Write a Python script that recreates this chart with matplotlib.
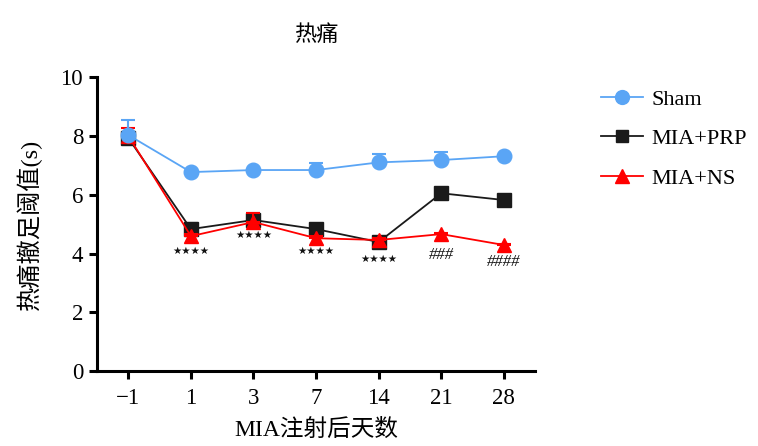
import matplotlib
matplotlib.use("Agg")
import matplotlib.pyplot as plt
from matplotlib.lines import Line2D
import numpy as np

plt.rcParams['font.family'] = ['Liberation Serif', 'Noto Sans CJK SC']
plt.rcParams['axes.unicode_minus'] = True

days = ["\u22121", "1", "3", "7", "14", "21", "28"]
sham = [8.03, 6.77, 6.84, 6.84, 7.10, 7.18, 7.31]
sham_err = [0.50, 0.05, 0.05, 0.25, 0.28, 0.27, 0.05]
prp = [7.93, 4.83, 5.14, 4.83, 4.39, 6.05, 5.82]
prp_err = [0.15, 0.20, 0.25, 0.12, 0.08, 0.15, 0.08]
ns = [8.00, 4.59, 5.07, 4.52, 4.46, 4.66, 4.29]
ns_err = [0.28, 0.08, 0.30, 0.08, 0.08, 0.05, 0.05]

star_labels = ["", "★★★★", "★★★★", "★★★★", "★★★★", "", ""]
star_y = [0, 4.10, 4.64, 4.10, 3.82, 0, 0]
hash_labels = ["", "", "", "", "", "###", "####"]
hash_y = [0, 0, 0, 0, 0, 3.95, 3.70]

x = np.arange(len(days))

fig = plt.figure(figsize=(7.58, 4.46), dpi=100)
ax = fig.add_axes([0.128, 0.168, 0.578, 0.659])

styles = {
    "Sham": dict(color="#5aa5f5", marker="o", ms=10.5),
    "MIA+PRP": dict(color="#1a1a1a", marker="s", ms=9.5),
    "MIA+NS": dict(color="#ff0000", marker="^", ms=10.5),
}

def series(vals, errs, label, z):
    st = styles[label]
    ax.errorbar(x, vals, yerr=[np.zeros(len(errs)), errs], color=st["color"],
                marker=st["marker"], markersize=st["ms"], linewidth=1.3,
                capsize=5, capthick=1.5, elinewidth=1.5, zorder=z)

series(prp, prp_err, "MIA+PRP", 3)
series(ns, ns_err, "MIA+NS", 4)
series(sham, sham_err, "Sham", 5)

for xi, lab, yv in zip(x, star_labels, star_y):
    if lab:
        ax.text(xi, yv, lab, ha="center", va="center", fontsize=7.5,
                color="#111111", family="DejaVu Sans")
for xi, lab, yv in zip(x, hash_labels, hash_y):
    if lab:
        ax.text(xi, yv, lab, ha="center", va="center", fontsize=12,
                color="#111111", fontstyle="italic")

ax.set_xlim(-0.5, 6.5)
ax.set_ylim(0, 10)
ax.set_xticks(x)
ax.set_xticklabels(days)
ax.set_yticks([0, 2, 4, 6, 8, 10])
for s in ["top", "right"]:
    ax.spines[s].set_visible(False)
for s in ["left", "bottom"]:
    ax.spines[s].set_linewidth(2.2)
ax.tick_params(axis="both", width=2.2, length=6, labelsize=16.5, pad=4)
ax.tick_params(axis="x", pad=6)

ax.set_xlabel("MIA注射后天数", fontsize=17, labelpad=7)
ax.set_ylabel("热痛撤足阈值(s)", fontsize=17.5, labelpad=13)
ax.set_title("热痛", fontsize=16, pad=26)

names = ["Sham", "MIA+PRP", "MIA+NS"]
handles = [Line2D([], [], color=styles[n]["color"], marker=styles[n]["marker"],
                  markersize=styles[n]["ms"] * 0.95, linewidth=1.3) for n in names]
fig.legend(handles, names, loc="upper left", bbox_to_anchor=(0.772, 0.835),
           frameon=False, fontsize=16, handlelength=1.9, handletextpad=0.4,
           labelspacing=0.85, borderpad=0.2)

fig.savefig("out.png", dpi=100)
